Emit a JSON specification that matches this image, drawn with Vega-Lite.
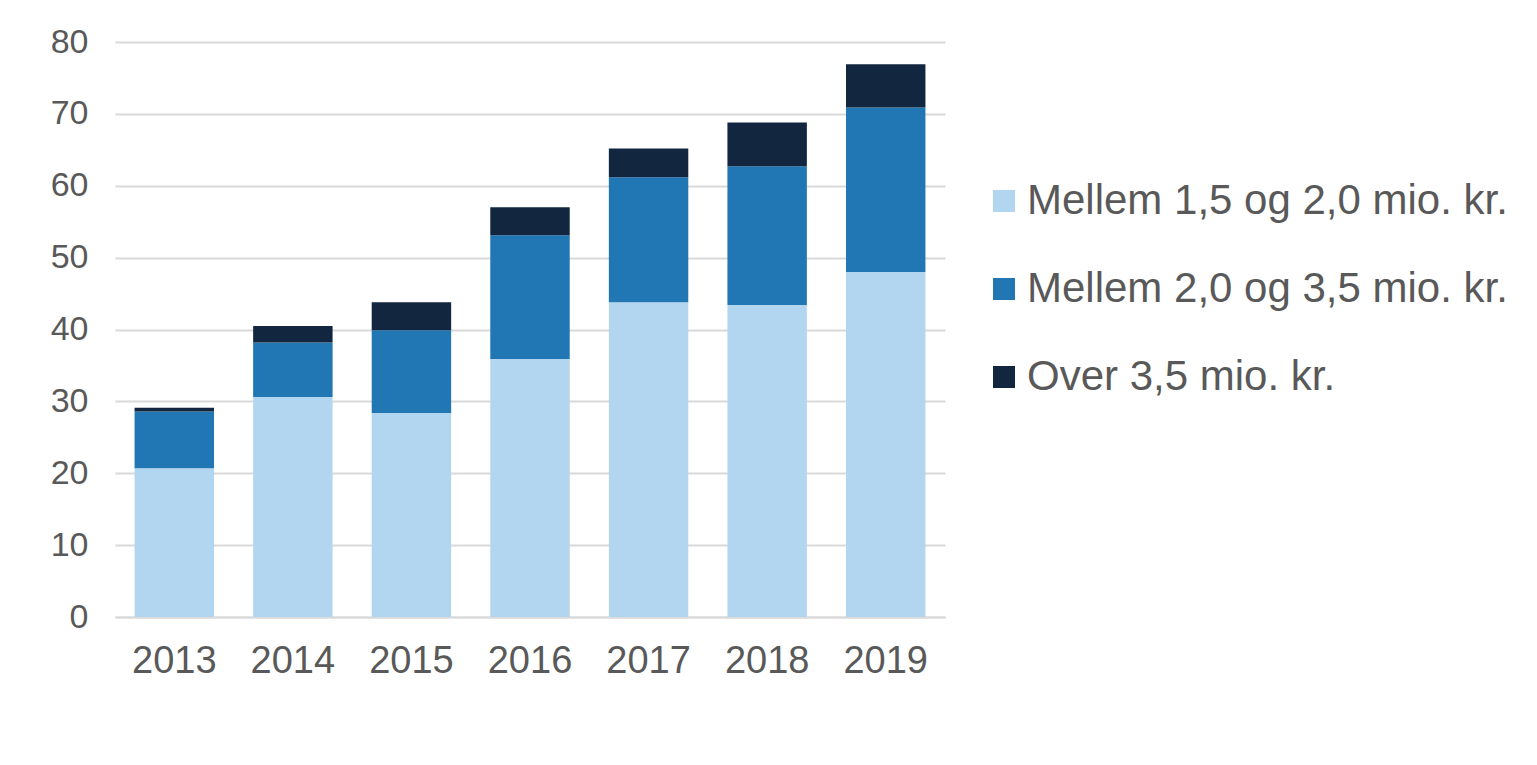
{
  "$schema": "https://vega.github.io/schema/vega-lite/v6.json",
  "width": 830,
  "height": 575,
  "autosize": {"type": "none"},
  "padding": {"left": 115, "top": 42, "right": 592, "bottom": 148},
  "background": "white",
  "config": {
    "view": {"stroke": null},
    "font": "Liberation Sans"
  },
  "data": {
    "values": [
      {"year": "2013", "cat": "Mellem 1,5 og 2,0 mio. kr.", "value": 20.7},
      {"year": "2013", "cat": "Mellem 2,0 og 3,5 mio. kr.", "value": 7.9},
      {"year": "2013", "cat": "Over 3,5 mio. kr.", "value": 0.5},
      {"year": "2014", "cat": "Mellem 1,5 og 2,0 mio. kr.", "value": 30.6},
      {"year": "2014", "cat": "Mellem 2,0 og 3,5 mio. kr.", "value": 7.6},
      {"year": "2014", "cat": "Over 3,5 mio. kr.", "value": 2.3},
      {"year": "2015", "cat": "Mellem 1,5 og 2,0 mio. kr.", "value": 28.4},
      {"year": "2015", "cat": "Mellem 2,0 og 3,5 mio. kr.", "value": 11.5},
      {"year": "2015", "cat": "Over 3,5 mio. kr.", "value": 3.9},
      {"year": "2016", "cat": "Mellem 1,5 og 2,0 mio. kr.", "value": 35.9},
      {"year": "2016", "cat": "Mellem 2,0 og 3,5 mio. kr.", "value": 17.2},
      {"year": "2016", "cat": "Over 3,5 mio. kr.", "value": 3.9},
      {"year": "2017", "cat": "Mellem 1,5 og 2,0 mio. kr.", "value": 43.8},
      {"year": "2017", "cat": "Mellem 2,0 og 3,5 mio. kr.", "value": 17.4},
      {"year": "2017", "cat": "Over 3,5 mio. kr.", "value": 4.0},
      {"year": "2018", "cat": "Mellem 1,5 og 2,0 mio. kr.", "value": 43.4},
      {"year": "2018", "cat": "Mellem 2,0 og 3,5 mio. kr.", "value": 19.3},
      {"year": "2018", "cat": "Over 3,5 mio. kr.", "value": 6.1},
      {"year": "2019", "cat": "Mellem 1,5 og 2,0 mio. kr.", "value": 48.0},
      {"year": "2019", "cat": "Mellem 2,0 og 3,5 mio. kr.", "value": 22.9},
      {"year": "2019", "cat": "Over 3,5 mio. kr.", "value": 6.0}
    ]
  },
  "mark": {"type": "bar"},
  "encoding": {
    "x": {
      "field": "year",
      "type": "nominal",
      "scale": {"paddingInner": 0.33, "paddingOuter": 0.165},
      "axis": {
        "title": null,
        "labelAngle": 0,
        "labelFontSize": 38,
        "labelColor": "#595959",
        "labelPadding": 25,
        "ticks": false,
        "domainColor": "#D9D9D9",
        "domainWidth": 2,
        "grid": false
      }
    },
    "y": {
      "field": "value",
      "type": "quantitative",
      "stack": "zero",
      "scale": {"domain": [0, 80]},
      "axis": {
        "title": null,
        "values": [0, 10, 20, 30, 40, 50, 60, 70, 80],
        "labelFontSize": 34,
        "labelColor": "#595959",
        "labelPadding": 27,
        "ticks": false,
        "domain": false,
        "gridColor": "#D9D9D9",
        "gridWidth": 2
      }
    },
    "color": {
      "field": "cat",
      "type": "nominal",
      "scale": {
        "domain": ["Mellem 1,5 og 2,0 mio. kr.", "Mellem 2,0 og 3,5 mio. kr.", "Over 3,5 mio. kr."],
        "range": ["#B3D6F0", "#2077B3", "#132640"]
      },
      "legend": {
        "title": null,
        "orient": "none",
        "legendX": 868,
        "legendY": 138,
        "padding": 0,
        "symbolType": "square",
        "symbolSize": 484,
        "symbolStrokeWidth": 0,
        "labelFontSize": 42,
        "labelColor": "#595959",
        "labelOffset": 2,
        "rowPadding": 46,
        "labelLimit": 700
      }
    },
    "order": {"field": "cat", "sort": "ascending"}
  }
}
